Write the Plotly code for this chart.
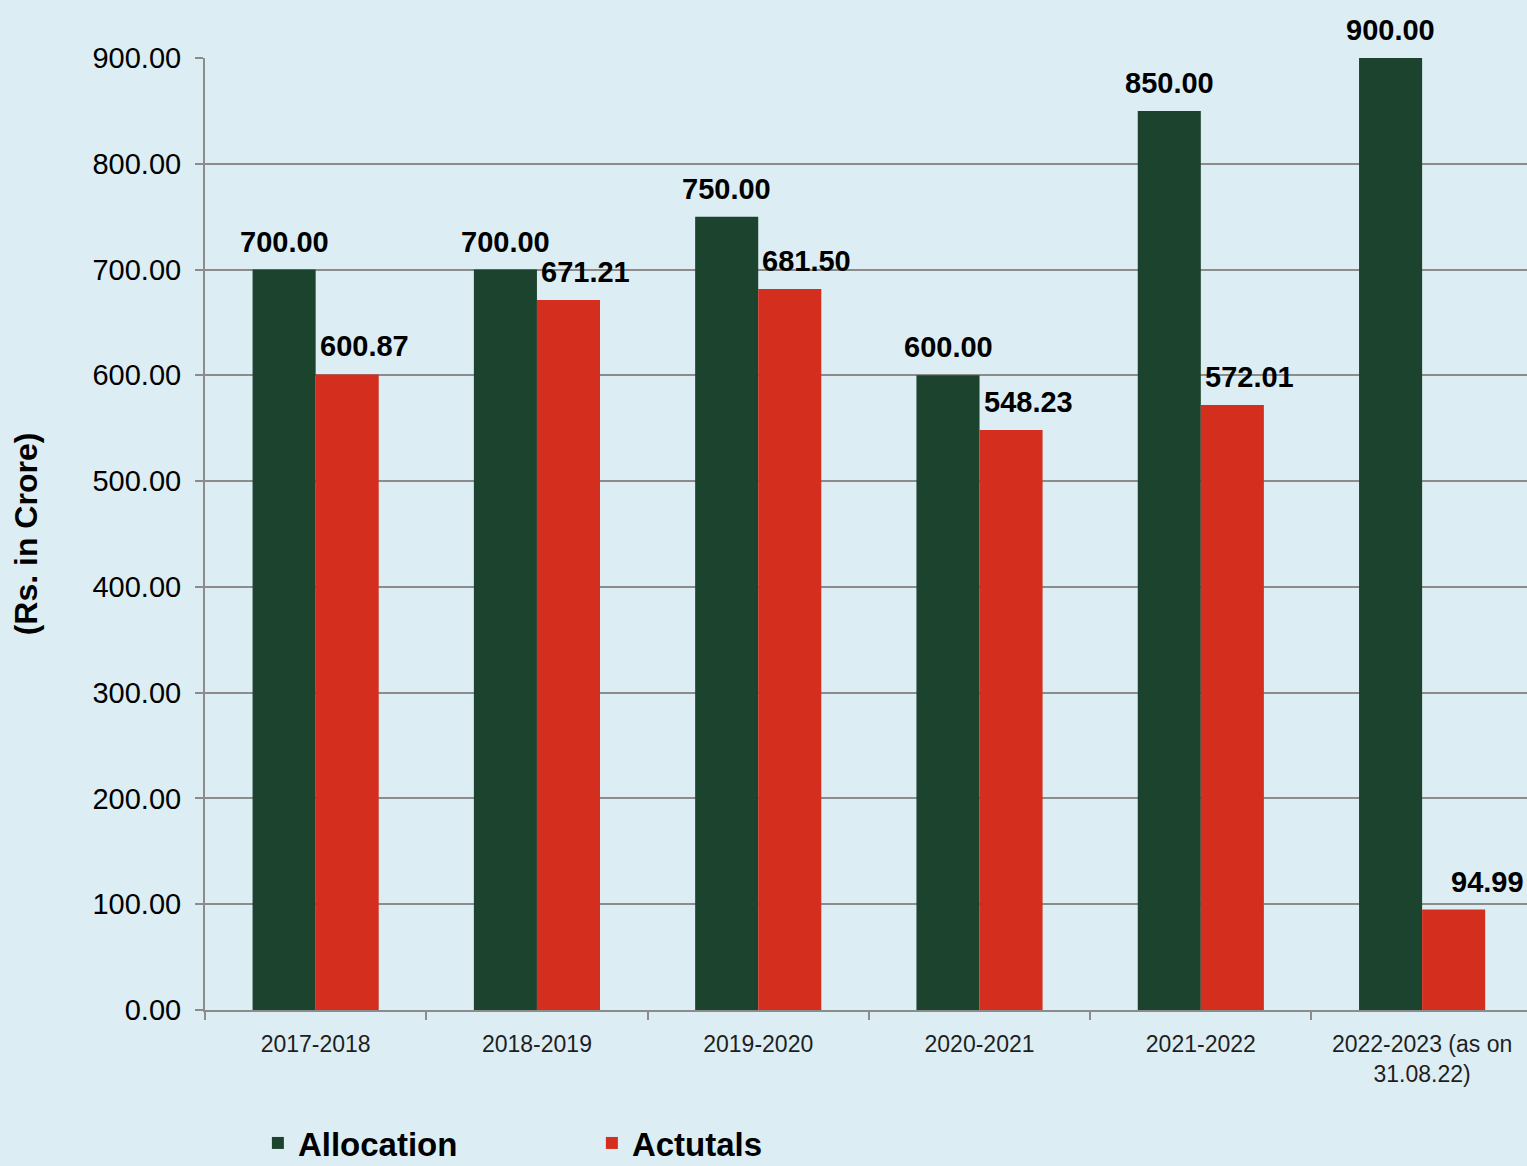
import plotly.graph_objects as go

categories = ["2017-2018", "2018-2019", "2019-2020", "2020-2021", "2021-2022", "2022-2023 (as on<br>31.08.22)"]
allocation = [700.00, 700.00, 750.00, 600.00, 850.00, 900.00]
actuals = [600.87, 671.21, 681.50, 548.23, 572.01, 94.99]
y_ticks = [0, 100, 200, 300, 400, 500, 600, 700, 800, 900]

GREEN = "rgb(27,67,45)"
RED = "rgb(212,47,30)"
BG = "rgb(220,238,244)"
GRID = "rgb(140,140,140)"
FONT = "Liberation Sans, Arial, sans-serif"

fig = go.Figure()
fig.add_trace(go.Bar(x=categories, y=allocation, name="Allocation", marker_color=GREEN,
                     marker_line_width=0))
fig.add_trace(go.Bar(x=categories, y=actuals, name="Actutals", marker_color=RED,
                     marker_line_width=0))

# data labels
bw = 63  # approx bar pixel width used for label offsets
red_shift = [17, 17, 17, 17, 17, 34]
for i, c in enumerate(categories):
    fig.add_annotation(x=c, y=allocation[i], text=f"{allocation[i]:.2f}", showarrow=False,
                       xshift=-bw / 2, yanchor="bottom", yshift=10,
                       font=dict(family=FONT, size=29, color="black", weight="bold"))
    fig.add_annotation(x=c, y=actuals[i], text=f"{actuals[i]:.2f}", showarrow=False,
                       xshift=bw / 2 + red_shift[i], yanchor="bottom", yshift=10,
                       font=dict(family=FONT, size=29, color="black", weight="bold"))

fig.update_layout(
    width=1527, height=1166,
    paper_bgcolor=BG, plot_bgcolor=BG,
    margin=dict(l=205, r=0, t=58, b=156),
    barmode="group", bargap=0.43, bargroupgap=0,
    showlegend=True,
    legend=dict(orientation="h", x=0.04, xanchor="left", yref="container",
                y=1 - 1143 / 1166, yanchor="middle",
                font=dict(family=FONT, size=33, color="black", weight="bold"),
                bgcolor="rgba(0,0,0,0)", entrywidth=289, itemwidth=30),
    xaxis=dict(type="category", range=[-0.5, 5.474], showline=True, linecolor=GRID, linewidth=2,
               ticks="outside", tickson="boundaries", ticklen=8, tickcolor=GRID, tickwidth=2,
               tickangle=0, automargin=False, ticklabelstandoff=12,
               tickfont=dict(family=FONT, size=23, color="rgb(30,30,30)"), showgrid=False,
               fixedrange=True),
    yaxis=dict(range=[0, 900], tickvals=y_ticks, ticktext=[f"{v:.2f}" for v in y_ticks],
               showline=True, linecolor=GRID, linewidth=2, ticks="outside", ticklen=8,
               tickcolor=GRID, tickwidth=2, showgrid=True, gridcolor=GRID, gridwidth=2,
               zeroline=False, ticklabelstandoff=8, automargin=False,
               tickfont=dict(family=FONT, size=29, color="black"),
               title=dict(text="(Rs. in Crore)", standoff=45,
                          font=dict(family=FONT, size=32, color="black", weight="bold"))),
)

fig.write_html("out.html", config={"displayModeBar": False},
               post_script="document.body.style.margin='0';")
